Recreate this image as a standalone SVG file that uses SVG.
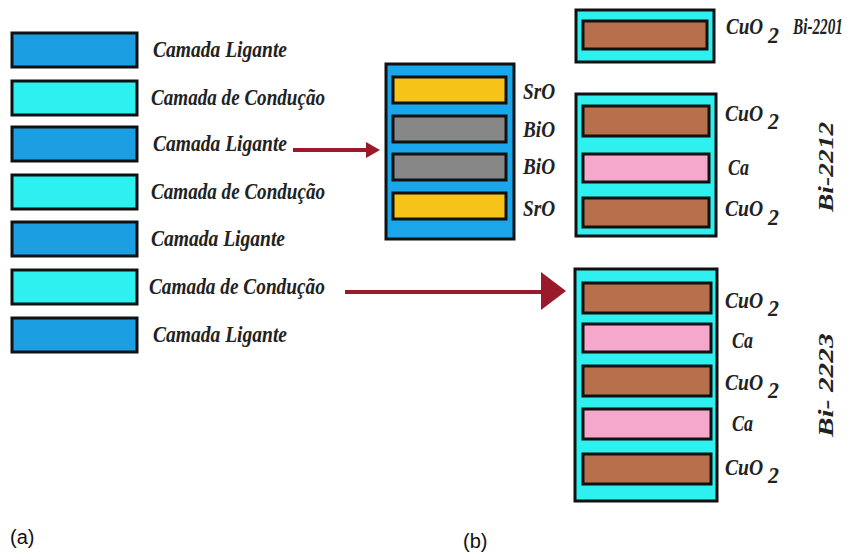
<svg xmlns="http://www.w3.org/2000/svg" width="859" height="553" viewBox="0 0 859 553">
<style>
.lig{fill:#1c9ee3;stroke:#111;stroke-width:3}
.con{fill:#2ff0f0;stroke:#111;stroke-width:3}
.frame{fill:#1aa6ea;stroke:#111;stroke-width:3}
.cframe{fill:#2ef0ee;stroke:#111;stroke-width:3}
.sro{fill:#f6c419;stroke:#111;stroke-width:3}
.bio{fill:#878787;stroke:#111;stroke-width:3}
.cuo{fill:#b8704c;stroke:#111;stroke-width:3}
.ca{fill:#f5a8cc;stroke:#111;stroke-width:3}
.t{font-family:"Liberation Serif","Times New Roman",serif;font-weight:bold;font-style:italic;font-size:24px;fill:#222}
.m{font-size:23px}
.r{font-size:21px}
.cap{font-family:"Liberation Sans",Arial,sans-serif;font-size:20px;fill:#111}
.arr{stroke:#9a1a2c;stroke-width:4;fill:none}
.head{fill:#9a1a2c}
</style>
<rect width="859" height="553" fill="#fff"/>
<g id="legend">
<g id="l1"><rect class="lig" x="12" y="33" width="125" height="34"/><text class="t" transform="translate(153,57) scale(0.814,1)">Camada Ligante</text></g>
<g id="l2"><rect class="con" x="12" y="81" width="125" height="34"/><text class="t" transform="translate(151,105) scale(0.796,1)">Camada de Condução</text></g>
<g id="l3"><rect class="lig" x="12" y="127" width="125" height="34"/><text class="t" transform="translate(153,151) scale(0.814,1)">Camada Ligante</text></g>
<g id="l4"><rect class="con" x="12" y="175" width="125" height="34"/><text class="t" transform="translate(151,199) scale(0.796,1)">Camada de Condução</text></g>
<g id="l5"><rect class="lig" x="12" y="222" width="125" height="34"/><text class="t" transform="translate(151,246) scale(0.814,1)">Camada Ligante</text></g>
<g id="l6"><rect class="con" x="12" y="270" width="125" height="34"/><text class="t" transform="translate(149,294) scale(0.805,1)">Camada de Condução</text></g>
<g id="l7"><rect class="lig" x="12" y="318" width="125" height="34"/><text class="t" transform="translate(153,342) scale(0.814,1)">Camada Ligante</text></g>
</g>
<g id="bilayer">
<rect class="frame" x="386" y="64" width="128" height="175"/>
<rect class="sro" x="393" y="77" width="113" height="26"/>
<rect class="bio" x="393" y="116" width="113" height="26"/>
<rect class="bio" x="393" y="154" width="113" height="26"/>
<rect class="sro" x="393" y="193" width="113" height="26"/>
<text class="t m" transform="translate(523,99) scale(0.835,1)">SrO</text>
<text class="t m" transform="translate(523,137) scale(0.835,1)">BiO</text>
<text class="t m" transform="translate(523,174) scale(0.835,1)">BiO</text>
<text class="t m" transform="translate(523,216) scale(0.835,1)">SrO</text>
</g>
<g id="bi2201">
<rect class="cframe" x="576" y="10" width="138" height="52"/>
<rect class="cuo" x="583" y="21" width="124" height="28"/>
<text class="t m" transform="translate(726,34) scale(0.83,1)">CuO</text>
<text class="t m" transform="translate(768,43) scale(0.95,1)">2</text>
<text class="t m" transform="translate(793,34) scale(0.663,1)">Bi-2201</text>
</g>
<g id="bi2212">
<rect class="cframe" x="576" y="94" width="140" height="142"/>
<rect class="cuo" x="583" y="106" width="126" height="30"/>
<rect class="ca" x="583" y="154" width="126" height="28"/>
<rect class="cuo" x="583" y="198" width="126" height="29"/>
<text class="t m" transform="translate(725,121) scale(0.85,1)">CuO</text>
<text class="t m" transform="translate(768,129) scale(0.95,1)">2</text>
<text class="t m" transform="translate(728,175) scale(0.78,1)">Ca</text>
<text class="t m" transform="translate(725,216) scale(0.85,1)">CuO</text>
<text class="t m" transform="translate(768,225) scale(0.95,1)">2</text>
<text class="t r" transform="translate(833,212) rotate(-90) scale(1.31,1)">Bi-2212</text>
</g>
<g id="bi2223">
<rect class="cframe" x="575" y="269" width="142" height="232"/>
<rect class="cuo" x="583" y="283" width="128" height="30"/>
<rect class="ca" x="583" y="324" width="128" height="28"/>
<rect class="cuo" x="583" y="366" width="128" height="30"/>
<rect class="ca" x="583" y="409" width="128" height="30"/>
<rect class="cuo" x="583" y="454" width="128" height="30"/>
<text class="t m" transform="translate(725,308) scale(0.85,1)">CuO</text>
<text class="t m" transform="translate(768,316) scale(0.95,1)">2</text>
<text class="t m" transform="translate(732,348) scale(0.78,1)">Ca</text>
<text class="t m" transform="translate(725,390) scale(0.85,1)">CuO</text>
<text class="t m" transform="translate(768,398) scale(0.95,1)">2</text>
<text class="t m" transform="translate(732,431) scale(0.78,1)">Ca</text>
<text class="t m" transform="translate(725,475) scale(0.85,1)">CuO</text>
<text class="t m" transform="translate(768,483) scale(0.95,1)">2</text>
<text class="t r" transform="translate(833,437) rotate(-90) scale(1.4,1)">Bi- 2223</text>
</g>
<g id="connectors">
<line class="arr" x1="293" y1="150" x2="368" y2="150"/>
<polygon class="head" points="366,142 380,150 366,158"/>
<line class="arr" x1="345" y1="292" x2="545" y2="292"/>
<polygon class="head" points="541,272 566,291 541,310"/>
</g>
<text class="cap" x="10" y="544">(a)</text>
<text class="cap" x="463" y="548">(b)</text>
</svg>
